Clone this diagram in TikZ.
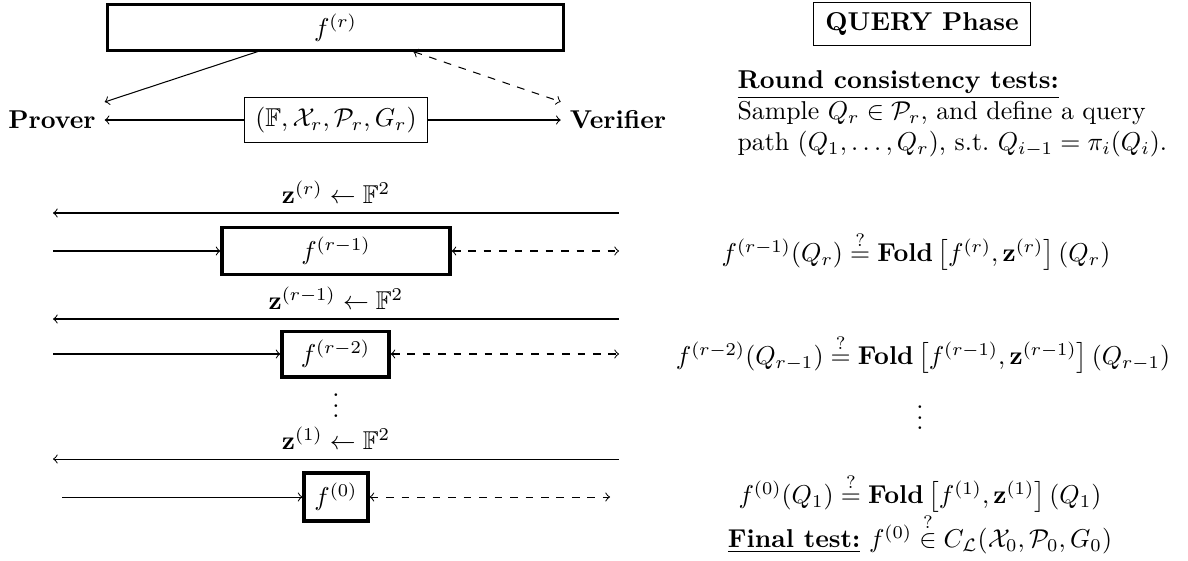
\documentclass[tikz,border=0pt]{standalone}
\usepackage{amsmath}
\usepackage{amssymb}
\usepackage{tikz}
\usetikzlibrary{calc}

\begin{document}
\begin{tikzpicture}[
        x=0.3876pt, y=-0.3876pt,
        oracle/.style={rectangle, draw=black, very thick, minimum height=17.4pt, align=center},
        param/.style={rectangle, draw=black, minimum height=17.1pt, align=center},
        party/.style={font=\bfseries},
        query/.style={<->, dashed}
    ]
        \useasboundingbox (0,0) rectangle (1188,560);

        % Commit phase
        \node[oracle, minimum width=176.4pt] (fr) at (335.5,27.5) {$f^{(r)}$};
        \node[party] (prover) at (52,120) {Prover};
        \node[param, minimum width=71.3pt] (params) at (336,120) {$(\mathbb{F},\mathcal{X}_r,\mathcal{P}_r,G_r)$};
        \node[party] (verifier) at (618,120) {Verifier};
        \draw[->] (params) -- (prover);
        \draw[->] (params) -- (verifier);
        \draw[->] ($(fr.south west)!0.33!(fr.south east)$) -- (prover.north east);
        \draw[query] ($(fr.south west)!0.67!(fr.south east)$) -- (verifier.north west);

        % Folding rounds
        \coordinate (zrl) at (53,213); \coordinate (zrr) at (619,213);
        \draw[<-] (zrl) -- node[above] {$\mathbf{z}^{(r)} \leftarrow \mathbb{F}^2$} (zrr);

        \node[oracle, minimum width=88.4pt, minimum height=18.2pt] (fr1) at (336,251) {$f^{(r-1)}$};
        \coordinate (fr1l) at (53,251); \coordinate (fr1r) at (619,251);
        \draw[->] (fr1l) -- (fr1);
        \draw[query] (fr1) -- (fr1r);

        \coordinate (zr1l) at (53,319); \coordinate (zr1r) at (619,319);
        \draw[<-] (zr1l) -- node[above] {$\mathbf{z}^{(r-1)} \leftarrow \mathbb{F}^2$} (zr1r);

        \node[oracle, minimum width=41.5pt, minimum height=17.8pt] (fr2) at (335.5,354) {$f^{(r-2)}$};
        \coordinate (fr2l) at (53,354); \coordinate (fr2r) at (619,354);
        \draw[->] (fr2l) -- (fr2);
        \draw[query] (fr2) -- (fr2r);

        \node[inner sep=0pt] (ldots) at (336,398) {$\vdots$};

        \coordinate (z1l) at (53,459); \coordinate (z1r) at (619,459);
        \draw[<-] (z1l) -- node[above] {$\mathbf{z}^{(1)} \leftarrow \mathbb{F}^2$} (z1r);

        \node[oracle, minimum width=24.8pt, minimum height=18.6pt] (f0) at (336,497) {$f^{(0)}$};
        \coordinate (f0l) at (62,497); \coordinate (f0r) at (610,497);
        \draw[->] (f0l) -- (f0);
        \draw[query] (f0) -- (f0r);

        % Query phase
        \node[param, minimum width=84.1pt, minimum height=16.3pt] (qphase) at (922,24) {\textbf{QUERY Phase}};
        \node[anchor=north west, align=left, inner sep=0pt] (rct) at (737,70) {\underline{\textbf{Round consistency tests:}}\\
            Sample $Q_r \in \mathcal{P}_r$, and define a query\\
            path $(Q_1,\ldots,Q_r)$, s.t.\ $Q_{i-1} = \pi_i(Q_i)$.};

        \node (eq1) at (916,251) {$f^{(r-1)}(Q_r) \stackrel{?}{=} \mathbf{Fold}\left[f^{(r)},\mathbf{z}^{(r)}\right](Q_r)$};
        \node (eq2) at (923,354) {$f^{(r-2)}(Q_{r-1}) \stackrel{?}{=} \mathbf{Fold}\left[f^{(r-1)},\mathbf{z}^{(r-1)}\right](Q_{r-1})$};
        \node[inner sep=0pt] (rdots) at (920,410) {$\vdots$};
        \node (eq3) at (920,493) {$f^{(0)}(Q_1) \stackrel{?}{=} \mathbf{Fold}\left[f^{(1)},\mathbf{z}^{(1)}\right](Q_1)$};
        \node (final) at (920,534) {\underline{\textbf{Final test:}} $f^{(0)} \stackrel{?}{\in} C_{\mathcal{L}}(\mathcal{X}_0,\mathcal{P}_0,G_0)$};
    \end{tikzpicture}
\end{document}
